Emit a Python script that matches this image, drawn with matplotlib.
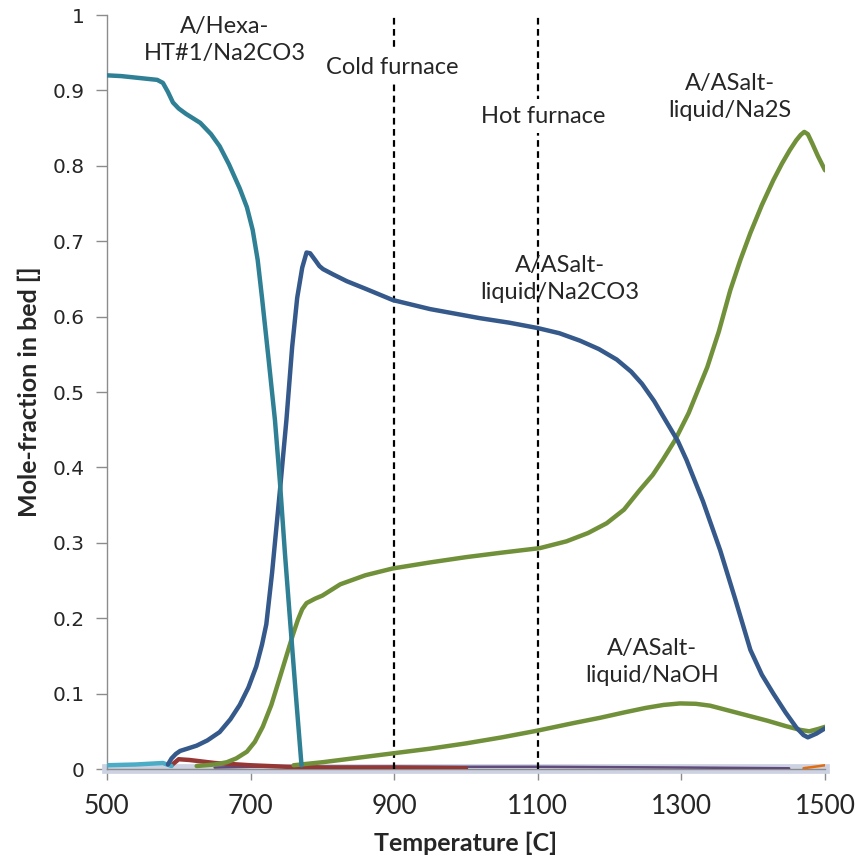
import numpy as np
from matplotlib import pyplot as plt

# Temperatures [C] and mole fractions
t_hexa = [500, 520, 540, 560, 570, 578, 585, 592, 600, 610, 620, 630, 645, 657, 670, 685, 695,
          703, 710, 716, 725, 734, 741, 748, 755, 763, 771]
hexa_na2co3 = [0.920, 0.919, 0.917, 0.915, 0.914, 0.910, 0.898, 0.884, 0.876, 0.869, 0.863, 0.857,
               0.842, 0.826, 0.802, 0.770, 0.745, 0.715, 0.675, 0.625, 0.545, 0.463, 0.380, 0.285,
               0.198, 0.100, 0.005]

t_cyan = [500, 540, 578, 590]
cyan_low = [0.005, 0.006, 0.008, 0.004]

t_liq_na2co3 = [585, 590, 596, 602, 612, 625, 640, 657, 672, 685, 697, 708, 716, 722, 730, 741, 750,
                758, 765, 772, 778, 783, 790, 796, 801, 815, 834, 860, 898, 950, 1019, 1060, 1099,
                1130, 1159, 1185, 1210, 1230, 1245, 1262, 1280, 1295, 1307, 1330, 1354, 1375, 1396,
                1412, 1428, 1445, 1460, 1470, 1476, 1488, 1500]
liq_na2co3 = [0.006, 0.014, 0.020, 0.024, 0.027, 0.031, 0.038, 0.049, 0.066, 0.085, 0.108, 0.136,
              0.165, 0.192, 0.260, 0.370, 0.463, 0.560, 0.625, 0.665, 0.685, 0.684, 0.675, 0.667,
              0.663, 0.656, 0.647, 0.637, 0.622, 0.610, 0.598, 0.592, 0.585, 0.578, 0.568, 0.557,
              0.543, 0.527, 0.511, 0.488, 0.459, 0.435, 0.410, 0.355, 0.290, 0.225, 0.158, 0.125,
              0.100, 0.075, 0.055, 0.045, 0.042, 0.047, 0.054]

t_na2s = [625, 650, 667, 680, 695, 706, 717, 729, 741, 750, 759, 766, 772, 778, 790, 800, 825, 860,
          898, 950, 1000, 1050, 1103, 1140, 1170, 1196, 1220, 1242, 1260, 1274, 1291, 1310, 1336,
          1352, 1368, 1382, 1396, 1412, 1428, 1440, 1451, 1460, 1466, 1471, 1476, 1482, 1490, 1500]
liq_na2s = [0.004, 0.006, 0.009, 0.014, 0.023, 0.036, 0.056, 0.085, 0.122, 0.150, 0.178, 0.198,
            0.212, 0.220, 0.226, 0.230, 0.245, 0.257, 0.266, 0.274, 0.281, 0.287, 0.293, 0.302,
            0.313, 0.326, 0.344, 0.370, 0.390, 0.410, 0.436, 0.472, 0.533, 0.580, 0.635, 0.675,
            0.711, 0.748, 0.781, 0.803, 0.821, 0.834, 0.841, 0.845, 0.842, 0.830, 0.813, 0.794]

t_naoh = [760, 780, 800, 850, 900, 950, 1000, 1050, 1100, 1150, 1187, 1220, 1250, 1275, 1298, 1320,
          1340, 1372, 1400, 1420, 1445, 1465, 1478, 1490, 1500]
liq_naoh = [0.005, 0.007, 0.009, 0.015, 0.021, 0.027, 0.034, 0.042, 0.051, 0.061, 0.068, 0.075,
            0.081, 0.085, 0.087, 0.0865, 0.084, 0.076, 0.069, 0.064, 0.057, 0.052, 0.050, 0.053,
            0.056]

t_red = [590, 600, 615, 650, 700, 750, 800, 900, 1000]
red_minor = [0.005, 0.013, 0.012, 0.008, 0.005, 0.003, 0.002, 0.002, 0.001]

t_purple = [650, 700, 900, 1100, 1300, 1450]
purple_minor = [0.002, 0.003, 0.003, 0.003, 0.002, 0.001]

t_orange = [1470, 1485, 1500]
orange_minor = [0.001, 0.003, 0.005]

t_zero = [500, 1500]
zero_band = [0.0, 0.0]

furnace_temps = [900, 1100]
x_ticks = [500, 700, 900, 1100, 1300, 1500]
y_ticks = [0, 0.1, 0.2, 0.3, 0.4, 0.5, 0.6, 0.7, 0.8, 0.9, 1.0]
y_tick_labels = ["0", "0.1", "0.2", "0.3", "0.4", "0.5", "0.6", "0.7", "0.8", "0.9", "1"]

fig = plt.figure(figsize=(8.55, 8.58), dpi=100)
ax = fig.add_axes([0.125, 0.1037, 0.84, 0.8788])

lw = 3.2
kw = dict(solid_joinstyle='round', solid_capstyle='round')
ax.plot(t_zero, zero_band, color='#cdd2e3', lw=7, clip_on=False, zorder=2)
ax.plot(t_purple, purple_minor, color='#604a7b', lw=1.8, zorder=3, **kw)
ax.plot(t_red, red_minor, color='#953735', lw=lw, zorder=3, **kw)
ax.plot(t_orange, orange_minor, color='#e46c0a', lw=1.8, zorder=3, **kw)
ax.plot(t_cyan, cyan_low, color='#4bacc6', lw=lw, zorder=4, **kw)
ax.plot(t_naoh, liq_naoh, color='#71903a', lw=lw, zorder=4, **kw)
ax.plot(t_na2s, liq_na2s, color='#71903a', lw=lw, zorder=4, **kw)
ax.plot(t_liq_na2co3, liq_na2co3, color='#34598a', lw=lw, zorder=5, **kw)
ax.plot(t_hexa, hexa_na2co3, color='#2f8095', lw=lw, zorder=6, **kw)

for t in furnace_temps:
    ax.plot([t, t], [0, 1], color='black', lw=1.6, ls=(0, (3, 2)), zorder=3)

txt = dict(family=['Lato', 'DejaVu Sans'], fontsize=17, color='#262626', ha='center', va='center')
ax.text(664, 0.967, "A/Hexa-\nHT#1/Na2CO3", linespacing=1.35, **txt)
ax.text(898, 0.931, "Cold furnace", zorder=7,
        bbox=dict(facecolor='white', edgecolor='none', pad=5), **txt)
ax.text(1107, 0.866, "Hot furnace", zorder=7,
        bbox=dict(facecolor='white', edgecolor='none', pad=5), **txt)
ax.text(1368, 0.891, "A/ASalt-\nliquid/Na2S", linespacing=1.35, zorder=7, **txt)
ax.text(1131, 0.650, "A/ASalt-\nliquid/Na2CO3", linespacing=1.35, zorder=7, **txt)
ax.text(1259, 0.142, "A/ASalt-\nliquid/NaOH", linespacing=1.35, zorder=7, **txt)

ax.set_xlim(500, 1500)
ax.set_ylim(0, 1)
ax.set_xticks(x_ticks)
ax.set_yticks(y_ticks)
ax.set_yticklabels(y_tick_labels)
for lab in ax.get_yticklabels():
    lab.set_fontfamily(['DejaVu Sans'])
    lab.set_fontsize(14.5)
    lab.set_color('#262626')
for lab in ax.get_xticklabels():
    lab.set_fontfamily(['Lato', 'DejaVu Sans'])
    lab.set_fontsize(19)
    lab.set_color('#262626')

for side in ['top', 'right']:
    ax.spines[side].set_visible(False)
for side in ['left', 'bottom']:
    ax.spines[side].set_color('#8c8c8c')
    ax.spines[side].set_linewidth(1.0)
ax.tick_params(axis='both', direction='out', length=8, color='#8c8c8c', width=1.0)
ax.tick_params(axis='x', pad=10)
ax.tick_params(axis='y', pad=8)

ax.set_xlabel("Temperature [C]", family=['Lato', 'DejaVu Sans'],
              fontsize=18, fontweight='bold', color='#262626', labelpad=9)
ax.set_ylabel("Mole-fraction in bed []", family=['Lato', 'DejaVu Sans'],
              fontsize=18, fontweight='bold', color='#262626', labelpad=8)

plt.savefig("out.png", dpi=100)
